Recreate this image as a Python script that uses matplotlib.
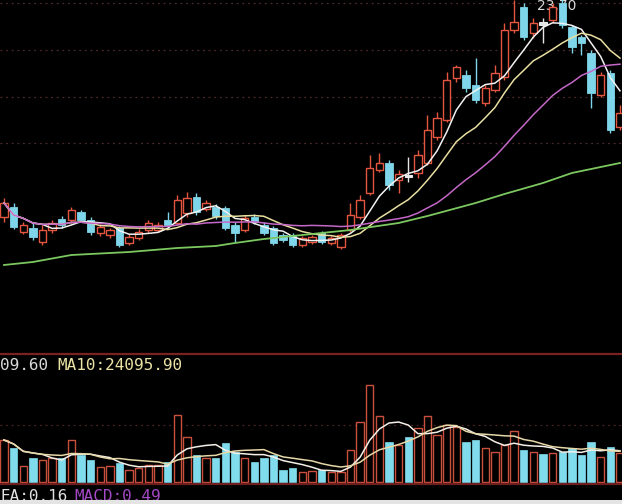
import matplotlib
matplotlib.use("Agg")
import matplotlib.pyplot as plt
from matplotlib.lines import Line2D
from matplotlib.patches import Rectangle
import numpy as np
import pandas as pd

# ── data ─────────────────────────────────────────────────────────────────────
opens = [15.32, 15.72, 14.72, 14.88, 14.32, 14.80, 15.24, 15.20, 15.52, 15.20,
         14.68, 14.60, 14.88, 14.28, 14.48, 14.80, 14.80, 15.20, 15.08, 15.48,
         16.12, 15.64, 15.72, 15.68, 15.00, 14.80, 15.32, 15.00, 14.88, 14.60,
         14.60, 14.20, 14.32, 14.68, 14.28, 14.12, 14.80, 15.32, 16.28, 17.20,
         17.48, 16.80, 17.00, 17.08, 17.48, 18.52, 19.20, 20.88, 21.00, 20.60,
         19.88, 20.40, 20.92, 22.80, 23.72, 22.68, 23.12, 23.20, 23.88, 22.92,
         22.52, 21.88, 20.20, 21.08, 18.92]
closes = [15.88, 14.92, 15.00, 14.52, 14.80, 15.08, 15.00, 15.60, 15.20, 14.72,
          14.92, 14.80, 14.20, 14.52, 14.72, 15.08, 15.00, 15.00, 16.00, 16.08,
          15.52, 15.88, 15.36, 14.88, 14.68, 15.28, 15.12, 14.68, 14.28, 14.40,
          14.20, 14.48, 14.52, 14.32, 14.48, 14.60, 15.40, 16.00, 17.28, 17.48,
          16.60, 17.04, 16.92, 17.80, 18.80, 19.28, 20.80, 21.32, 20.48, 20.00,
          20.48, 21.08, 22.80, 23.12, 22.52, 23.08, 23.00, 23.72, 23.00, 22.12,
          22.28, 20.28, 21.00, 18.80, 19.48]
highs = [16.08, 15.88, 15.12, 15.12, 15.00, 15.20, 15.36, 15.72, 15.60, 15.32,
         15.04, 14.88, 14.96, 14.64, 14.84, 15.20, 15.12, 15.52, 16.20, 16.32,
         16.28, 16.00, 15.84, 15.76, 15.12, 15.40, 15.44, 15.12, 14.96, 14.68,
         14.68, 14.56, 14.60, 14.76, 14.56, 14.68, 15.88, 16.20, 17.80, 17.88,
         17.60, 17.20, 17.72, 18.00, 19.40, 19.52, 21.12, 21.40, 21.20, 21.68,
         20.60, 21.40, 23.08, 24.00, 23.88, 23.28, 23.28, 23.88, 24.08, 23.00,
         22.60, 22.00, 21.12, 21.20, 19.80]
lows = [15.12, 14.84, 14.64, 14.40, 14.20, 14.68, 14.88, 15.08, 15.12, 14.60,
        14.56, 14.48, 14.12, 14.20, 14.40, 14.68, 14.72, 14.88, 15.00, 15.32,
        15.40, 15.56, 15.24, 14.80, 14.32, 14.72, 15.04, 14.60, 14.20, 14.32,
        14.12, 14.12, 14.24, 14.24, 14.20, 14.04, 14.72, 15.24, 16.20, 17.12,
        16.40, 16.28, 16.72, 16.88, 17.40, 18.40, 19.12, 20.72, 20.32, 19.88,
        19.76, 20.32, 20.80, 22.68, 22.40, 22.48, 22.28, 23.08, 22.88, 21.88,
        21.80, 19.68, 20.12, 18.68, 18.80]
volume = [33000, 26700, 12600, 18800, 17300, 18800, 18800, 33000, 21200, 17300,
          11800, 12600, 14900, 9400, 11000, 13300, 13300, 15700, 52600, 35300,
          21200, 18800, 18800, 30600, 23600, 18800, 15700, 18800, 21200, 9400,
          11000, 7900, 8600, 9400, 7900, 7900, 25100, 47100, 76100, 51800,
          31400, 29000, 35300, 42400, 51800, 36900, 44700, 43200, 31400, 33000,
          26700, 23600, 29000, 40000, 25100, 23600, 22000, 22800, 23600, 26700,
          21200, 31400, 19600, 27500, 22800]

# long moving average (its history starts before the visible window)
ma60_idx = [0, 3, 7, 13, 18, 22, 24, 27, 31, 36, 41, 44, 49, 52, 56, 59, 64]
ma60_val = [13.40, 13.52, 13.80, 13.92, 14.08, 14.16, 14.28, 14.44, 14.60,
            14.80, 15.08, 15.36, 15.88, 16.24, 16.68, 17.08, 17.48]

peak_label = "23.70"
vol_label_left = "09.60"
vol_label_ma10 = "MA10:24095.90"
macd_left = "EA:0.16"
macd_right = "MACD:0.49"

# ── colours ──────────────────────────────────────────────────────────────────
RED = "#e4563f"
CYAN = "#7fd6ea"
DOJI = "#e6e6e6"
VRED = "#c9503c"
VCYAN = "#80dcec"
MA_COLORS = {"ma5": "#f2f2f2", "ma10": "#e8dfa0", "ma20": "#c468c8", "ma60": "#7cc860"}
LABEL_FONT = dict(family="DejaVu Sans Mono", fontsize=11.5)

W, H = 622, 504
fig = plt.figure(figsize=(W / 100, H / 100), dpi=100, facecolor="black")

n = len(closes)
x = np.arange(n)
xlim = (-0.4156, 64.21)

# ── price panel ──────────────────────────────────────────────────────────────
ax = fig.add_axes([0, 152 / H, 1, 352 / H])
ax.set_facecolor("black")
ax.set_xlim(*xlim)
ax.set_ylim(24 - 0.04 * 352, 24.0)
ax.set_axis_off()

for gy in [23.88, 22.00, 20.12, 18.28]:
    ax.axhline(gy, color="#4a2a2a", lw=0.9, ls=(0, (1.5, 3)), zorder=0)

o = np.array(opens); c = np.array(closes)
hi = np.array(highs); lo = np.array(lows)
bw = 0.76
for i in range(n):
    top = max(o[i], c[i]); bot = min(o[i], c[i])
    body = max(top - bot, 0.04)
    if abs(c[i] - o[i]) < 0.13:
        col = DOJI
        ax.bar(x[i], body, bottom=bot, width=bw, color=col, edgecolor=col, lw=0.8, zorder=3)
    elif c[i] >= o[i]:
        col = RED
        ax.bar(x[i], body, bottom=bot, width=bw, facecolor="black", edgecolor=col, lw=1.0, zorder=3)
    else:
        col = CYAN
        ax.bar(x[i], body, bottom=bot, width=bw, color=col, edgecolor=col, lw=0.6, zorder=3)
    ax.vlines(x[i], top, hi[i], color=col, lw=1.0, zorder=3)
    ax.vlines(x[i], lo[i], bot, color=col, lw=1.0, zorder=3)

cs = pd.Series(closes)
ax.plot(x, cs.rolling(5, min_periods=1).mean(), color=MA_COLORS["ma5"], lw=1.1, zorder=4)
ax.plot(x, cs.rolling(10, min_periods=1).mean(), color=MA_COLORS["ma10"], lw=1.1, zorder=4)
ax.plot(x, cs.rolling(20, min_periods=1).mean(), color=MA_COLORS["ma20"], lw=1.1, zorder=4)
ax.plot(ma60_idx, ma60_val, color=MA_COLORS["ma60"], lw=1.3, zorder=4)

ax.text(55.4, 23.60, peak_label, color="#d8d8d8", fontsize=10, ha="left",
        va="baseline", zorder=2)

# ── volume panel ─────────────────────────────────────────────────────────────
k = 785.0
axv = fig.add_axes([0, 0, 1, 148 / H])
axv.set_facecolor("black")
axv.set_xlim(*xlim)
axv.set_ylim(-k * 22, k * 126)
axv.set_axis_off()
axv.axhline(k * 57, color="#4a2424", lw=0.9, ls=(0, (1.5, 3)), zorder=0)

v = np.array(volume)
up = c >= o
axv.bar(x[up], v[up], width=bw, facecolor="black", edgecolor=VRED, lw=1.0, zorder=2)
axv.bar(x[~up], v[~up], width=bw, color=VCYAN, edgecolor=VCYAN, lw=0.5, zorder=2)
vs = pd.Series(volume)
axv.plot(x, vs.rolling(5, min_periods=1).mean(), color="#f4f0e8", lw=1.1, zorder=3)
axv.plot(x, vs.rolling(10, min_periods=1).mean(), color="#e6d8a8", lw=1.1, zorder=3)

# separators
fig.add_artist(Line2D([0, 1], [1 - 354 / H, 1 - 354 / H], color="#7a2222", lw=1.6,
                      transform=fig.transFigure))
fig.add_artist(Line2D([0, 1], [1 - 484 / H, 1 - 484 / H], color="#6e1e1e", lw=1.6,
                      transform=fig.transFigure))

fig.text(0 / W, 1 - 366 / H, vol_label_left, color="#d8d8d8",
         ha="left", va="center", **LABEL_FONT)
fig.text(57 / W, 1 - 366 / H, vol_label_ma10, color="#ebe3a4",
         ha="left", va="center", **LABEL_FONT)
fig.text(1 / W, 1 - 489 / H, macd_left, color="#e0e0e0",
         ha="left", va="top", **LABEL_FONT)
fig.text(74 / W, 1 - 489 / H, macd_right, color="#a448c4",
         ha="left", va="top", **LABEL_FONT)

fig.add_artist(Rectangle((0, 0), 1, 4 / H, transform=fig.transFigure,
                         facecolor="#e4e4e4", edgecolor="none", zorder=10))

fig.savefig("out.png", dpi=100, facecolor="black")
